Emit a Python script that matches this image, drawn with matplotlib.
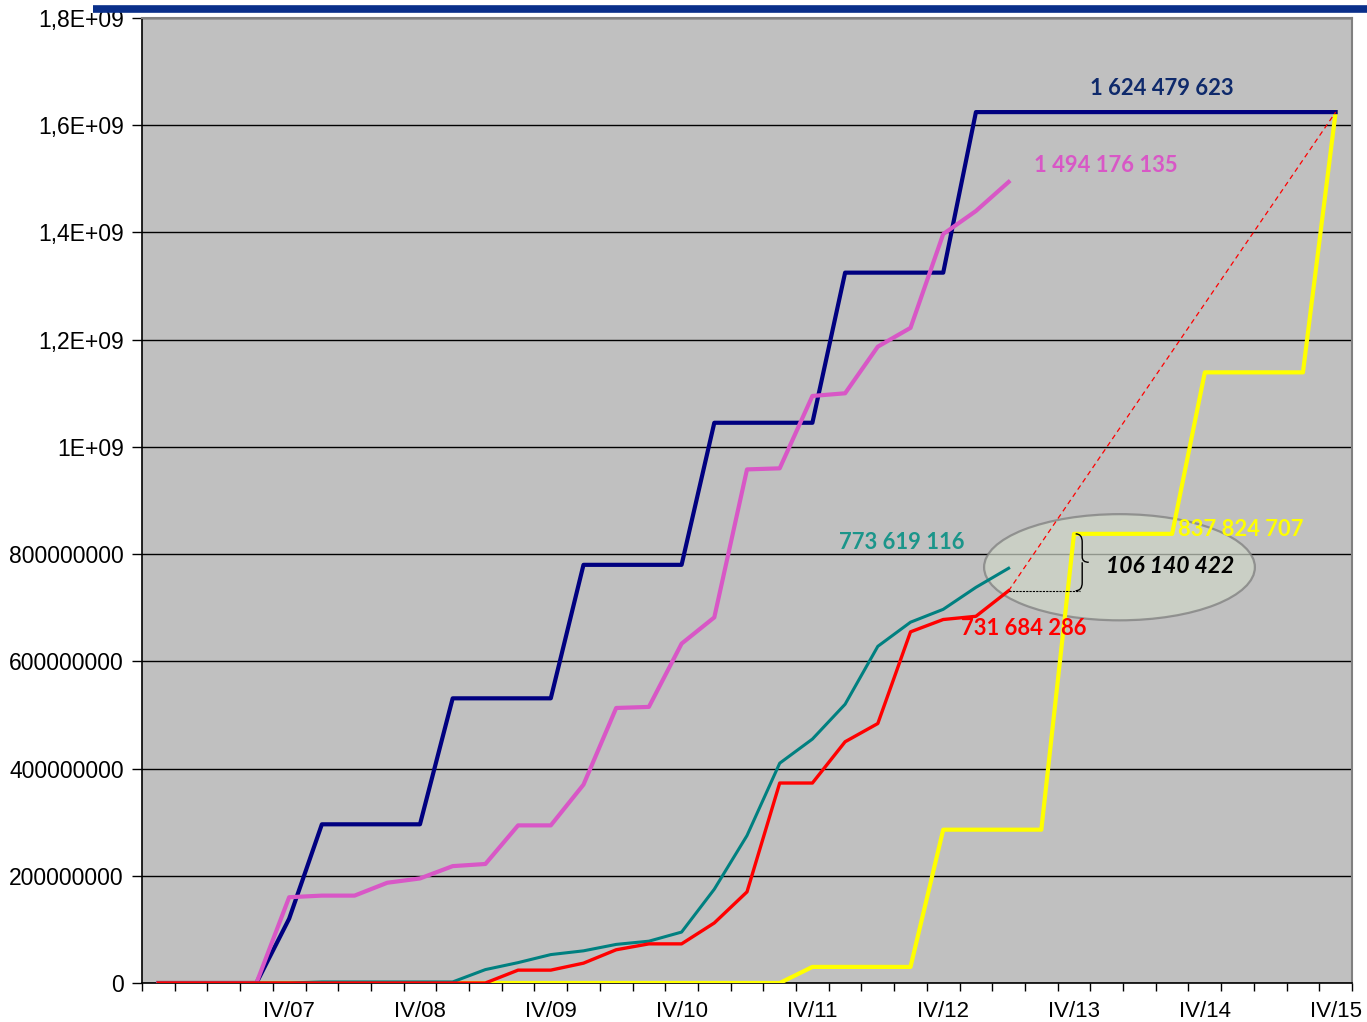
import matplotlib
matplotlib.use("Agg")
import matplotlib.pyplot as plt
from matplotlib.patches import Ellipse, PathPatch
from matplotlib.path import Path
from matplotlib.lines import Line2D
import numpy as np

# ---- data ----
quarters = ["IV/06", "I/07", "II/07", "III/07", "IV/07", "I/08", "II/08", "III/08", "IV/08",
            "I/09", "II/09", "III/09", "IV/09", "I/10", "II/10", "III/10", "IV/10",
            "I/11", "II/11", "III/11", "IV/11", "I/12", "II/12", "III/12", "IV/12",
            "I/13", "II/13", "III/13", "IV/13", "I/14", "II/14", "III/14", "IV/14",
            "I/15", "II/15", "III/15", "IV/15"]
tick_labels = ["IV/07", "IV/08", "IV/09", "IV/10", "IV/11", "IV/12", "IV/13", "IV/14", "IV/15"]

navy = [0, 0, 0, 0, 120e6, 296e6, 296e6, 296e6, 296e6, 531e6, 531e6, 531e6, 531e6,
        780e6, 780e6, 780e6, 780e6, 1045e6, 1045e6, 1045e6, 1045e6, 1325e6, 1325e6, 1325e6,
        1325e6, 1624479623, 1624479623, 1624479623, 1624479623, 1624479623, 1624479623,
        1624479623, 1624479623, 1624479623, 1624479623, 1624479623, 1624479623]
magenta = [0, 0, 0, 0, 160e6, 163e6, 163e6, 187e6, 195e6, 218e6, 222e6, 294e6, 294e6,
           370e6, 513e6, 515e6, 633e6, 682e6, 958e6, 960e6, 1095e6, 1100e6, 1187e6, 1222e6,
           1397e6, 1440e6, 1494176135]
teal = [0, 0, 0, 0, 0, 2e6, 2e6, 2e6, 2e6, 2e6, 25e6, 38e6, 53e6, 60e6, 72e6, 78e6, 95e6,
        175e6, 275e6, 410e6, 455e6, 520e6, 628e6, 673e6, 697e6, 738e6, 773619116]
red = [0, 0, 0, 0, 0, 0, 0, 0, 0, 0, 0, 24e6, 24e6, 37e6, 62e6, 73e6, 73e6, 112e6, 170e6,
       373e6, 373e6, 450e6, 484e6, 655e6, 678e6, 684e6, 731684286]
yellow = [0, 0, 0, 0, 0, 0, 0, 0, 0, 0, 0, 0, 0, 0, 0, 0, 0, 0, 0, 0, 30e6, 30e6, 30e6, 30e6,
          286e6, 286e6, 286e6, 286e6, 837824707, 837824707, 837824707, 837824707,
          1139e6, 1139e6, 1139e6, 1139e6, 1624479623]

ytick_vals = [0, 200e6, 400e6, 600e6, 800e6, 1000e6, 1200e6, 1400e6, 1600e6, 1800e6]
ytick_text = ["0", "200000000", "400000000", "600000000", "800000000", "1E+09",
              "1,2E+09", "1,4E+09", "1,6E+09", "1,8E+09"]

C_NAVY = "#000080"
C_MAG = "#D857C6"
C_TEAL = "#008080"
C_RED = "#FF0000"
C_YEL = "#FFFF00"

W, H = 1367, 1022
fig = plt.figure(figsize=(W / 100, H / 100), dpi=100)
ax = fig.add_axes([142 / W, 39 / H, (1352 - 142) / W, (983 - 18) / H])
ax.set_facecolor("#C0C0C0")

n = len(quarters)
x = np.arange(n)

ax.plot(x[:len(yellow)], yellow, color=C_YEL, lw=3.0, zorder=3)
ax.plot(x[:len(navy)], navy, color=C_NAVY, lw=3.0, zorder=4)
ax.plot(x[:len(magenta)], magenta, color=C_MAG, lw=3.0, zorder=5)
ax.plot(x[:len(teal)], teal, color=C_TEAL, lw=2.2, zorder=6)
ax.plot(x[:len(red)], red, color=C_RED, lw=2.4, zorder=7)

# dashed projection of red to the final target
ax.plot([len(red) - 1, n - 1], [red[-1], navy[-1]], color=C_RED, lw=0.9,
        ls=(0, (4, 3)), zorder=8)
# dotted difference guide
ax.plot([len(red) - 1, 28.17], [red[-1], red[-1]], color="black", lw=0.8,
        ls=(0, (2, 1)), zorder=8)

# ellipse highlight (below the lines, over the grid)
ax.add_patch(Ellipse((29.39, 0.7755e9), 8.28, 0.198e9, facecolor="#CFD6C8", alpha=0.7,
                     edgecolor="#7A7A7A", lw=1.6, zorder=2))

# curly brace between red end and yellow value
bx0, bx1 = 28.05, 28.45
y0, y1 = red[-1], yellow[28]
ym = (y0 + y1) / 2
codes = [Path.MOVETO, Path.CURVE3, Path.CURVE3, Path.LINETO, Path.LINETO, Path.CURVE3,
         Path.CURVE3, Path.MOVETO, Path.CURVE3, Path.CURVE3, Path.LINETO, Path.CURVE3,
         Path.CURVE3]
verts = [(bx0, y1), (bx0 + 0.2, y1), (bx0 + 0.2, y1 - 0.015e9),
         (bx0 + 0.2, ym + 0.012e9),
         (bx0 + 0.2, ym + 0.010e9), (bx0 + 0.2, ym), (bx1, ym),
         (bx0 + 0.2, ym), (bx0 + 0.2, ym - 0.010e9), (bx0 + 0.2, ym - 0.012e9),
         (bx0 + 0.2, y0 + 0.015e9), (bx0 + 0.2, y0), (bx0, y0)]
ax.add_patch(PathPatch(Path(verts, codes), facecolor="none", edgecolor="black", lw=1.0,
                       zorder=10))

# value labels
lab_font = ["Lato", "DejaVu Sans"]
fs = 15.8
ax.text(30.67, 1.668e9, "1 624 479 623", color="#0F2A6B", fontsize=fs, fontweight="bold",
        ha="center", va="center", family=lab_font, zorder=11)
ax.text(28.96, 1.524e9, "1 494 176 135", color=C_MAG, fontsize=fs, fontweight="bold",
        ha="center", va="center", family=lab_font, zorder=11)
ax.text(22.73, 0.821e9, "773 619 116", color="#1B958A", fontsize=fs, fontweight="bold",
        ha="center", va="center", family=lab_font, zorder=11)
ax.text(26.46, 0.662e9, "731 684 286", color=C_RED, fontsize=fs, fontweight="bold",
        ha="center", va="center", family=lab_font, zorder=11)
ax.text(33.09, 0.845e9, "837 824 707", color=C_YEL, fontsize=fs, fontweight="bold",
        ha="center", va="center", family=lab_font, zorder=11)
ax.text(30.95, 0.776e9, "106 140 422", color="black", fontsize=16.5, fontweight="bold",
        fontstyle="italic", ha="center", va="center", family=lab_font, zorder=11)

# axes
ax.set_xlim(-0.5, n - 0.5)
ax.set_ylim(0, 1.8e9)
ax.set_yticks(ytick_vals)
ax.set_yticklabels(ytick_text, fontsize=16.5, family="Liberation Sans")
ax.yaxis.grid(True, color="black", lw=1.0)
ax.set_axisbelow(True)
ax.tick_params(axis="y", length=7, width=1, pad=6, color="black")

tick_pos = [quarters.index(t) for t in tick_labels]
ax.set_xticks(tick_pos)
ax.set_xticklabels(tick_labels, fontsize=16, family="Liberation Sans")
ax.set_xticks(np.arange(-0.5, n, 1.0), minor=True)
ax.tick_params(axis="x", which="major", length=0, pad=13)
ax.tick_params(axis="x", which="minor", length=6, width=1, color="black")

for s in ["left", "bottom"]:
    ax.spines[s].set_color("black")
    ax.spines[s].set_linewidth(1.2)
for s in ["top", "right"]:
    ax.spines[s].set_color("#808080")
    ax.spines[s].set_linewidth(1.5)

# top decorative bar
fig.add_artist(Line2D([93 / W, 1.0], [1 - 9 / H, 1 - 9 / H], color="#0A2F8A", lw=5.5,
                      transform=fig.transFigure, solid_capstyle="butt"))

fig.savefig("out.png", dpi=100)
